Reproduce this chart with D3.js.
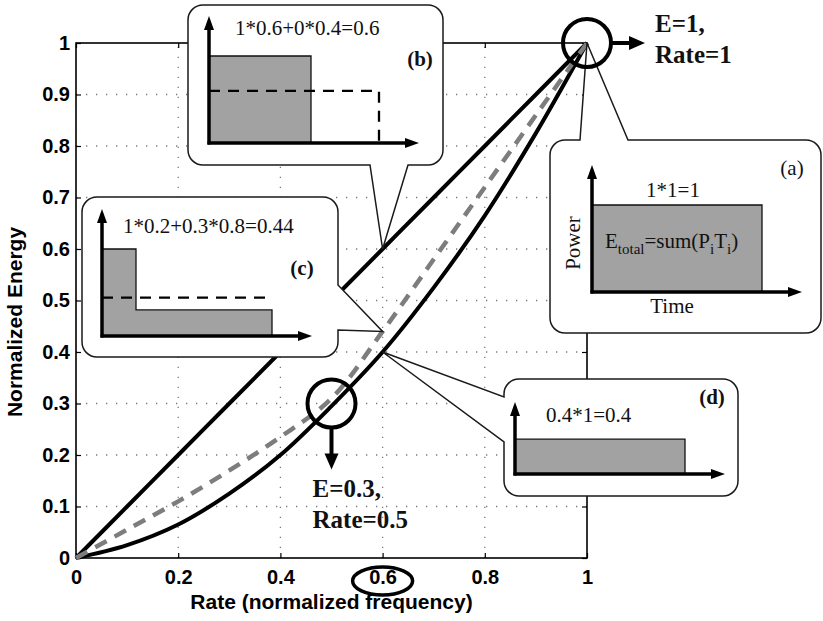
<!DOCTYPE html>
<html>
<head>
<meta charset="utf-8">
<script src="https://cdn.jsdelivr.net/npm/d3@7"></script>
<style>
  body { margin: 0; background: #fff; }
  svg { display: block; }
</style>
</head>
<body>
<svg id="chart" width="823" height="621"></svg>
<script>
// ---- data ----
const rates        = [0, 0.1, 0.2, 0.3, 0.4, 0.5, 0.6, 0.7, 0.8, 0.9, 1];
const energyUpper  = [0, 0.1, 0.2, 0.3, 0.4, 0.5, 0.6, 0.7, 0.8, 0.9, 1];
const energyMixed  = [0, 0.055, 0.11, 0.17, 0.235, 0.31, 0.44, 0.58, 0.72, 0.86, 1];
const energyLower  = [0, 0.025, 0.065, 0.125, 0.2, 0.295, 0.4, 0.525, 0.665, 0.825, 1];
const xTicks = [0, 0.2, 0.4, 0.6, 0.8, 1];
const yTicks = [0, 0.1, 0.2, 0.3, 0.4, 0.5, 0.6, 0.7, 0.8, 0.9, 1];
const xGrid  = [0.2, 0.4, 0.6, 0.8];
const yGrid  = [0.1, 0.2, 0.3, 0.4, 0.5, 0.6, 0.7, 0.8, 0.9];

// power profiles (duration, power) for the inset diagrams
const stepsA = [{ dur: 1,   power: 1 }];
const stepsB = [{ dur: 0.6, power: 1 }, { dur: 0.4, power: 0 }];
const stepsC = [{ dur: 0.2, power: 1 }, { dur: 0.8, power: 0.3 }];
const stepsD = [{ dur: 1,   power: 0.4 }];
const avgB = 0.6;
const avgC = 0.44;

// points the callouts refer to [rate, energy]
const anchorA = [1, 1];
const anchorB = [0.6, 0.6];
const anchorC = [0.6, 0.44];
const anchorD = [0.6, 0.4];
const markTop = [1, 1];
const markMid = [0.5, 0.3];
const markedTick = 0.6;

// ---- layout ----
const svg = d3.select("#chart");
const plotL = 76, plotR = 587, plotT = 43, plotB = 558;
const x = d3.scaleLinear().domain([0, 1]).range([plotL, plotR]);
const y = d3.scaleLinear().domain([0, 1]).range([plotB, plotT]);
const sans = "'Liberation Sans', Arial, Helvetica, sans-serif";
const serif = "'Liberation Serif', 'Times New Roman', Times, serif";

// grid
const grid = svg.append("g").attr("stroke", "#7a7a7a").attr("stroke-width", 1.3)
  .attr("stroke-dasharray", "1.3,8.7");
grid.selectAll("line.gx").data(xGrid).join("line").attr("class", "gx")
  .attr("x1", d => x(d)).attr("x2", d => x(d)).attr("y1", plotB).attr("y2", plotT);
grid.selectAll("line.gy").data(yGrid).join("line").attr("class", "gy")
  .attr("y1", d => y(d)).attr("y2", d => y(d)).attr("x1", plotL).attr("x2", plotR);

// axes
function styleAxis(g) {
  g.select(".domain").remove();
  g.selectAll(".tick line").attr("stroke", "#000").attr("stroke-width", 1.2);
  g.selectAll("text").attr("font-family", sans).attr("font-weight", "bold")
    .attr("font-size", 20).attr("fill", "#000");
}
const fmt = d3.format("~g");
svg.append("g").attr("transform", `translate(0,${plotB})`)
  .call(d3.axisBottom(x).tickValues(xTicks).tickFormat(fmt).tickSizeInner(-5).tickSizeOuter(0).tickPadding(12))
  .call(styleAxis);
svg.append("g").attr("transform", `translate(${plotL},0)`)
  .call(d3.axisLeft(y).tickValues(yTicks).tickFormat(fmt).tickSizeInner(-5).tickSizeOuter(0).tickPadding(6))
  .call(styleAxis);
svg.append("g").attr("transform", `translate(0,${plotT})`)
  .call(d3.axisTop(x).tickValues(xTicks).tickFormat("").tickSizeInner(-5).tickSizeOuter(0))
  .call(styleAxis);
svg.append("g").attr("transform", `translate(${plotR},0)`)
  .call(d3.axisRight(y).tickValues(yTicks).tickFormat("").tickSizeInner(-5).tickSizeOuter(0))
  .call(styleAxis);

svg.append("rect").attr("x", plotL).attr("y", plotT)
  .attr("width", plotR - plotL).attr("height", plotB - plotT)
  .attr("fill", "none").attr("stroke", "#000").attr("stroke-width", 1.6);

// axis titles
svg.append("text").attr("x", (plotL + plotR) / 2).attr("y", 609)
  .attr("text-anchor", "middle").attr("font-family", sans).attr("font-weight", "bold")
  .attr("font-size", 21).text("Rate (normalized frequency)");
svg.append("text").attr("transform", "translate(22,322) rotate(-90)")
  .attr("text-anchor", "middle").attr("font-family", sans).attr("font-weight", "bold")
  .attr("font-size", 21).text("Normalized Energy");

// curves
const line = d3.line().x((d, i) => x(rates[i])).y(d => y(d)).curve(d3.curveCatmullRom.alpha(0.5));
svg.append("path").datum(energyUpper).attr("d", line)
  .attr("fill", "none").attr("stroke", "#000").attr("stroke-width", 4);
svg.append("path").datum(energyLower).attr("d", line)
  .attr("fill", "none").attr("stroke", "#000").attr("stroke-width", 4);
svg.append("path").datum(energyMixed).attr("d", line)
  .attr("fill", "none").attr("stroke", "#7d7d7d").attr("stroke-width", 4.5)
  .attr("stroke-dasharray", "13,9");

// ---- callouts ----
function calloutPath(b, apex) {
  const { x0, y0, x1, y1, r, side, n0, n1 } = b;
  const [ax, ay] = apex;
  const p = d3.path();
  p.moveTo(x0 + r, y0);
  if (side === "top") { p.lineTo(n0, y0); p.lineTo(ax, ay); p.lineTo(n1, y0); }
  p.lineTo(x1 - r, y0);
  p.arcTo(x1, y0, x1, y0 + r, r);
  if (side === "right") { p.lineTo(x1, n0); p.lineTo(ax, ay); p.lineTo(x1, n1); }
  p.lineTo(x1, y1 - r);
  p.arcTo(x1, y1, x1 - r, y1, r);
  if (side === "bottom") { p.lineTo(n1, y1); p.lineTo(ax, ay); p.lineTo(n0, y1); }
  p.lineTo(x0 + r, y1);
  p.arcTo(x0, y1, x0, y1 - r, r);
  if (side === "left") { p.lineTo(x0, n1); p.lineTo(ax, ay); p.lineTo(x0, n0); }
  p.lineTo(x0, y0 + r);
  p.arcTo(x0, y0, x0 + r, y0, r);
  p.closePath();
  return p.toString();
}

function arrowHead(g, tipX, tipY, dir, len, half) {
  let pts;
  if (dir === "up") pts = [[tipX, tipY], [tipX - half, tipY + len], [tipX + half, tipY + len]];
  else if (dir === "down") pts = [[tipX, tipY], [tipX - half, tipY - len], [tipX + half, tipY - len]];
  else pts = [[tipX, tipY], [tipX - len, tipY - half], [tipX - len, tipY + half]];
  g.append("path").attr("d", d3.line()(pts) + "Z").attr("fill", "#000");
}

// inset power/time diagram
function inset(g, x0, base, steps, opts) {
  const t = d3.scaleLinear().domain([0, 1]).range([x0, x0 + 170]);
  const pw = d3.scaleLinear().domain([0, 1]).range([base, base - 87]);
  const pts = [[t(0), pw(0)]];
  let acc = 0;
  steps.forEach(s => {
    pts.push([t(acc), pw(s.power)]);
    acc += s.dur;
    pts.push([t(acc), pw(s.power)]);
  });
  pts.push([t(acc), pw(0)]);
  g.append("path").attr("d", d3.line()(pts) + "Z")
    .attr("fill", "#a2a2a2").attr("stroke", "#111").attr("stroke-width", 1.3);
  if (opts.avg != null) {
    const dpts = [[t(0), pw(opts.avg)], [t(opts.avgEnd), pw(opts.avg)]];
    if (opts.drop) dpts.push([t(opts.avgEnd), pw(0)]);
    g.append("path").attr("d", d3.line()(dpts)).attr("fill", "none")
      .attr("stroke", "#000").attr("stroke-width", 2.3).attr("stroke-dasharray", "11,8");
  }
  const yLen = opts.yLen || 127;
  g.append("line").attr("x1", x0).attr("x2", x0).attr("y1", base + 1.5).attr("y2", base - yLen + 10)
    .attr("stroke", "#000").attr("stroke-width", 3.5);
  arrowHead(g, x0, base - yLen, "up", 14, 5);
  g.append("line").attr("x1", x0 - 1.5).attr("x2", x0 + 200).attr("y1", base).attr("y2", base)
    .attr("stroke", "#000").attr("stroke-width", 3.5);
  arrowHead(g, x0 + 210, base, "right", 14, 5);
}

function serifText(g, tx, ty, str, o = {}) {
  return g.append("text").attr("x", tx).attr("y", ty)
    .attr("font-family", serif).attr("font-size", o.size || 21)
    .attr("font-weight", o.bold ? "bold" : "normal")
    .attr("text-anchor", o.anchor || "start").attr("fill", "#111").text(str);
}

const boxStyle = sel => sel.attr("fill", "#fff").attr("stroke", "#1a1a1a").attr("stroke-width", 1.5);
const px = d => [x(d[0]), y(d[1])];

// (b)
const gB = svg.append("g");
gB.append("path").attr("d", calloutPath({ x0: 188, y0: 5, x1: 443, y1: 165, r: 15, side: "bottom", n0: 370, n1: 408 }, px(anchorB))).call(boxStyle);
inset(gB, 209, 143, stepsB, { avg: avgB, avgEnd: 1, drop: true });
serifText(gB, 235, 35, "1*0.6+0*0.4=0.6");
serifText(gB, 420, 66, "(b)", { bold: true, anchor: "middle" });

// (c)
const gC = svg.append("g");
gC.append("path").attr("d", calloutPath({ x0: 82, y0: 197, x1: 338, y1: 357, r: 15, side: "right", n0: 285, n1: 330 }, px(anchorC))).call(boxStyle);
inset(gC, 102, 336, stepsC, { avg: avgC, avgEnd: 0.98, drop: false });
serifText(gC, 123, 233, "1*0.2+0.3*0.8=0.44");
serifText(gC, 302, 275, "(c)", { bold: true, anchor: "middle" });

// (d)
const gD = svg.append("g");
gD.append("path").attr("d", calloutPath({ x0: 504, y0: 379, x1: 738, y1: 496, r: 15, side: "left", n0: 397, n1: 442 }, px(anchorD))).call(boxStyle);
inset(gD, 515, 474, stepsD, { yLen: 72 });
serifText(gD, 546, 422, "0.4*1=0.4");
serifText(gD, 712, 404, "(d)", { bold: true, anchor: "middle" });

// (a)
const gA = svg.append("g");
gA.append("path").attr("d", calloutPath({ x0: 550, y0: 140, x1: 821, y1: 333, r: 15, side: "top", n0: 580, n1: 628 }, px(anchorA))).call(boxStyle);
inset(gA, 592, 292, stepsA, {});
serifText(gA, 673, 197, "1*1=1", { anchor: "middle" });
serifText(gA, 792, 175, "(a)", { anchor: "middle" });
serifText(gA, 672, 313, "Time", { anchor: "middle" });
gA.append("text").attr("transform", "translate(580,243) rotate(-90)")
  .attr("font-family", serif).attr("font-size", 21).attr("text-anchor", "middle")
  .attr("fill", "#111").text("Power");
const eq = serifText(gA, 605, 248, "");
eq.append("tspan").text("E");
eq.append("tspan").attr("dy", 6).attr("font-size", 15).text("total");
eq.append("tspan").attr("dy", -6).text("=sum(P");
eq.append("tspan").attr("dy", 6).attr("font-size", 15).text("i");
eq.append("tspan").attr("dy", -6).text("T");
eq.append("tspan").attr("dy", 6).attr("font-size", 15).text("i");
eq.append("tspan").attr("dy", -6).text(")");

// ---- highlighted points ----
const ringR = 24;
const [tx, ty] = px(markTop);
svg.append("circle").attr("cx", tx).attr("cy", ty).attr("r", ringR)
  .attr("fill", "none").attr("stroke", "#000").attr("stroke-width", 4);
svg.append("line").attr("x1", tx + ringR).attr("x2", tx + ringR + 20).attr("y1", ty).attr("y2", ty)
  .attr("stroke", "#000").attr("stroke-width", 4);
arrowHead(svg, tx + ringR + 34, ty, "right", 16, 7);
serifText(svg, 655, 32, "E=1,", { bold: true, size: 25 });
serifText(svg, 655, 63, "Rate=1", { bold: true, size: 25 });

const [mx, my] = px(markMid);
svg.append("circle").attr("cx", mx).attr("cy", my).attr("r", ringR)
  .attr("fill", "none").attr("stroke", "#000").attr("stroke-width", 4);
svg.append("line").attr("x1", mx).attr("x2", mx).attr("y1", my + ringR).attr("y2", my + ringR + 28)
  .attr("stroke", "#000").attr("stroke-width", 4);
arrowHead(svg, mx, my + ringR + 42, "down", 16, 7);
serifText(svg, mx - 19, 497, "E=0.3,", { bold: true, size: 25 });
serifText(svg, mx - 19, 528, "Rate=0.5", { bold: true, size: 25 });

// ring around the 0.6 tick label
svg.append("ellipse").attr("cx", x(markedTick)).attr("cy", 581).attr("rx", 30).attr("ry", 14)
  .attr("fill", "none").attr("stroke", "#000").attr("stroke-width", 3.5);
</script>
</body>
</html>
